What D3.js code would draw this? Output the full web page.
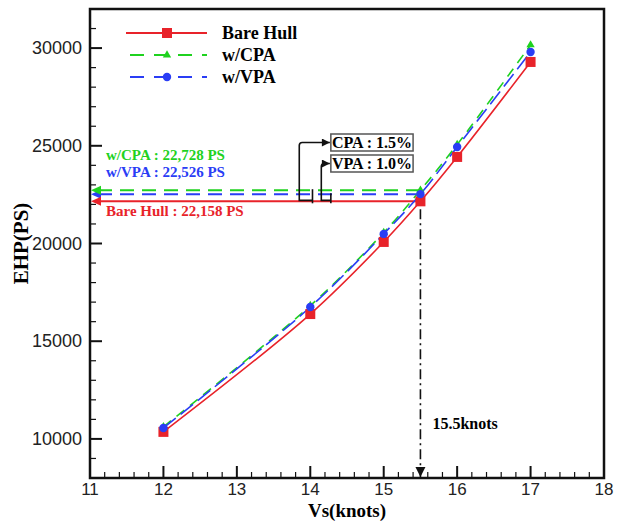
<!DOCTYPE html>
<html lang="en">
<head>
<meta charset="UTF-8" />
<title>EHP vs ship speed</title>
<script src="https://d3js.org/d3.v7.min.js"></script>
<style>
  body { margin: 0; background: #fff; }
  svg { display: block; }
  .tick-label { font: 18px "Liberation Sans", Arial, sans-serif; fill: #222; }
  .serif { font-family: "Liberation Serif", "Times New Roman", serif; font-weight: bold; }
</style>
</head>
<body>
<script>
// Data
const speeds = [12, 14, 15, 15.5, 16, 17];
const bareHull = [10360, 16390, 20080, 22158, 24430, 29290];
const withCPA = [10620, 16820, 20560, 22728, 25060, 30160];
const withVPA = [10560, 16750, 20490, 22526, 24940, 29800];
const xTicks = [11, 12, 13, 14, 15, 16, 17, 18];
const yTicks = [10000, 15000, 20000, 25000, 30000];
const designSpeed = 15.5;

const width = 624, height = 522;
const margin = { top: 9, right: 20, bottom: 44, left: 90 };

const svg = d3.select("body").append("svg")
  .attr("width", width).attr("height", height);

const x = d3.scaleLinear().domain([11, 18]).range([margin.left, width - margin.right]);
const y = d3.scaleLinear().domain([8000, 32000]).range([height - margin.bottom, margin.top]);

// arrow markers
const defs = svg.append("defs");
function arrow(id, color, w, h) {
  defs.append("marker").attr("id", id)
    .attr("viewBox", "0 0 10 10").attr("refX", 10).attr("refY", 5)
    .attr("markerWidth", w).attr("markerHeight", h)
    .attr("markerUnits", "userSpaceOnUse")
    .attr("orient", "auto")
    .append("path").attr("d", "M0,0 L10,5 L0,10 z").attr("fill", color);
}
arrow("arrBlack", "#111", 9, 8);
arrow("arrDown", "#111", 10, 12);

// ticks (inside)
const axisG = svg.append("g").attr("stroke", "#111");
d3.range(11, 18.001, 0.2).forEach(v => {
  const major = Math.abs(v - Math.round(v)) < 1e-6;
  axisG.append("line")
    .attr("x1", x(v)).attr("x2", x(v))
    .attr("y1", y(8000)).attr("y2", y(8000) - (major ? 12 : 6))
    .attr("stroke-width", major ? 2 : 1.2);
});
d3.range(8000, 32001, 1000).forEach(v => {
  const major = v % 5000 === 0;
  axisG.append("line")
    .attr("x1", x(11)).attr("x2", x(11) + (major ? 12 : 6))
    .attr("y1", y(v)).attr("y2", y(v))
    .attr("stroke-width", major ? 2 : 1.2);
});

// frame
svg.append("rect")
  .attr("x", x(11)).attr("y", y(32000))
  .attr("width", x(18) - x(11)).attr("height", y(8000) - y(32000))
  .attr("fill", "none").attr("stroke", "#111").attr("stroke-width", 2.5);

// tick labels
svg.selectAll(".xl").data(xTicks).join("text")
  .attr("class", "tick-label").style("font-size", "17px")
  .attr("x", d => x(d)).attr("y", y(8000) + 17)
  .attr("text-anchor", "middle").text(d => d);
svg.selectAll(".yl").data(yTicks).join("text")
  .attr("class", "tick-label")
  .attr("x", x(11) - 8).attr("y", d => y(d) + 6)
  .attr("text-anchor", "end").text(d => d);

// axis titles
svg.append("text").attr("class", "serif")
  .attr("x", (x(11) + x(18)) / 2).attr("y", 517)
  .attr("text-anchor", "middle").attr("font-size", 19).text("Vs(knots)");
svg.append("text").attr("class", "serif")
  .attr("transform", `translate(28,${y(20000)}) rotate(-90)`)
  .attr("text-anchor", "middle").attr("font-size", 21).text("EHP(PS)");

// series
const series = [
  { name: "Bare Hull", values: bareHull, color: "#e8232a", dash: null, shape: "square" },
  { name: "w/CPA", values: withCPA, color: "#1fd21f", dash: "10,7", shape: "triangle" },
  { name: "w/VPA", values: withVPA, color: "#2a3df5", dash: "16,6", shape: "circle" }
];

const line = d3.line().x(d => x(d[0])).y(d => y(d[1])).curve(d3.curveCatmullRom);

function drawMarker(g, shape, color, cx, cy) {
  if (shape === "square") {
    g.append("rect").attr("x", cx - 5).attr("y", cy - 5).attr("width", 10).attr("height", 10).attr("fill", color);
  } else if (shape === "circle") {
    g.append("circle").attr("cx", cx).attr("cy", cy).attr("r", 4.2).attr("fill", color);
  } else {
    g.append("path").attr("d", d3.symbol(d3.symbolTriangle, 30)()).attr("transform", `translate(${cx},${cy})`).attr("fill", color);
  }
}

// horizontal reference lines at design speed
const refIdx = speeds.indexOf(designSpeed);
[...series].reverse().forEach(s => {
  const v = s.values[refIdx];
  svg.append("line")
    .attr("x1", x(11) + 8).attr("x2", x(designSpeed))
    .attr("y1", y(v)).attr("y2", y(v))
    .attr("stroke", s.color).attr("stroke-width", 2)
    .attr("stroke-dasharray", s.dash ? "14,8" : null);
  svg.append("path")
    .attr("d", `M${x(11) + 1},${y(v)} L${x(11) + 11},${y(v) - 4.5} L${x(11) + 11},${y(v) + 4.5} z`)
    .attr("fill", s.color);
});

series.forEach(s => {
  const pts = speeds.map((sp, i) => [sp, s.values[i]]);
  svg.append("path").datum(pts)
    .attr("d", line).attr("fill", "none")
    .attr("stroke", s.color).attr("stroke-width", 1.6)
    .attr("stroke-dasharray", s.dash);
});
series.forEach(s => {
  const g = svg.append("g");
  speeds.forEach((sp, i) => drawMarker(g, s.shape, s.color, x(sp), y(s.values[i])));
});

// legend
series.forEach((s, i) => {
  const ly = 33 + i * 22;
  svg.append("line").attr("x1", 126).attr("x2", 207).attr("y1", ly).attr("y2", ly)
    .attr("stroke", s.color).attr("stroke-width", 2)
    .attr("stroke-dasharray", s.dash ? "14,10" : null)
    .attr("stroke-dashoffset", s.dash ? -4 : null);
  drawMarker(svg.append("g"), s.shape, s.color, 167, ly);
  svg.append("text").attr("class", "serif").attr("font-size", 18)
    .attr("x", 222).attr("y", ly + 6).text(s.name);
});

// left value labels
const valueLabels = [
  { text: "w/CPA : 22,728 PS", color: "#1fd21f", yy: 160 },
  { text: "w/VPA : 22,526 PS", color: "#2a3df5", yy: 177 },
  { text: "Bare Hull : 22,158 PS", color: "#e8232a", yy: 216 }
];
valueLabels.forEach(l => {
  svg.append("text").attr("class", "serif").attr("font-size", 15)
    .attr("x", 106).attr("y", l.yy).attr("fill", l.color).text(l.text);
});

// bracket callouts
const bh = y(bareHull[refIdx]);
const callouts = [
  { text: "CPA : 1.5%", top: withCPA[refIdx], xs: 13.85, xe: 14.03, boxY: 134 },
  { text: "VPA : 1.0%", top: withVPA[refIdx], xs: 14.15, xe: 14.28, boxY: 155 }
];
callouts.forEach(c => {
  const g = svg.append("g").attr("stroke", "#111").attr("fill", "none").attr("stroke-width", 1.6);
  const xs = x(c.xs), xe = x(c.xe), bx = x(14.28), midY = c.boxY + 8.5;
  g.append("path").attr("d", `M${xe},${bh - 1} L${xs},${bh - 1} L${xs},${midY + 3} Q${xs},${midY} ${xs + 3},${midY} L${bx - 1},${midY}`)
    .attr("marker-end", "url(#arrBlack)");
  g.append("line").attr("x1", xe).attr("x2", xe).attr("y1", y(c.top) - 1).attr("y2", bh + 2);
  svg.append("rect").attr("x", bx).attr("y", c.boxY).attr("width", x(15.4) - bx).attr("height", 17)
    .attr("fill", "#fff").attr("stroke", "#555").attr("stroke-width", 1.5);
  svg.append("text").attr("class", "serif").attr("font-size", 16)
    .attr("x", (bx + x(15.4)) / 2).attr("y", c.boxY + 14).attr("text-anchor", "middle").text(c.text);
});

// design speed dash-dot line
svg.append("line")
  .attr("x1", x(designSpeed)).attr("x2", x(designSpeed))
  .attr("y1", bh + 8).attr("y2", y(8000) - 1)
  .attr("stroke", "#111").attr("stroke-width", 1.6)
  .attr("stroke-dasharray", "10,4,2,4")
  .attr("marker-end", "url(#arrDown)");
svg.append("text").attr("class", "serif").attr("font-size", 16)
  .attr("x", x(designSpeed) + 12).attr("y", 429).text("15.5knots");
</script>
</body>
</html>
